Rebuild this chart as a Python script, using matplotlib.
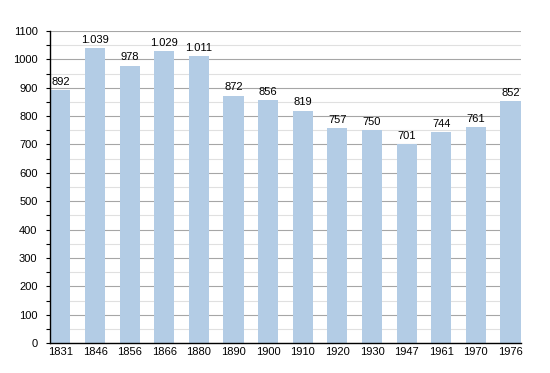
import numpy as np
import matplotlib.pyplot as plt
from matplotlib.ticker import MultipleLocator

plt.rcParams['font.family'] = ['Liberation Sans', 'DejaVu Sans']

years = ["1831", "1846", "1856", "1866", "1880", "1890", "1900",
         "1910", "1920", "1930", "1947", "1961", "1970", "1976"]
population = [892, 1039, 978, 1029, 1011, 872, 856, 819, 757, 750, 701, 744, 761, 852]


def fmt(v):
    # thousands separator as a dot
    return f"{v:,}".replace(",", ".")


fig = plt.figure(figsize=(5.5, 3.73), dpi=100)
ax = fig.add_axes([0.091, 0.080, 0.856, 0.837])

x = np.arange(len(years))
ax.bar(x, population, width=0.58, color="#b3cce5", zorder=2)

for xi, v in zip(x, population):
    ax.text(xi, v + 12, fmt(v), ha="center", va="bottom", fontsize=8, zorder=3)

ax.set_xlim(-0.3, len(years) - 0.7)
ax.set_ylim(0, 1100)
ax.yaxis.set_major_locator(MultipleLocator(100))
ax.yaxis.set_minor_locator(MultipleLocator(50))
ax.set_xticks(x)
ax.set_xticklabels(years)

# Gridlines
ax.grid(axis="y", which="major", color="#a6a6a6", linewidth=0.8, zorder=1)
ax.grid(axis="y", which="minor", color="#e0e0e0", linewidth=0.8, zorder=1)
ax.set_axisbelow(True)

for s in ["top", "right"]:
    ax.spines[s].set_visible(False)
ax.spines["left"].set_linewidth(1.0)
ax.spines["bottom"].set_linewidth(1.0)

ax.tick_params(axis="y", which="major", length=3, width=0.8, labelsize=8, pad=6)
ax.tick_params(axis="y", which="minor", length=3, width=0.8)
ax.tick_params(axis="x", length=0, labelsize=8, pad=3)

fig.savefig("out.png", dpi=100)
